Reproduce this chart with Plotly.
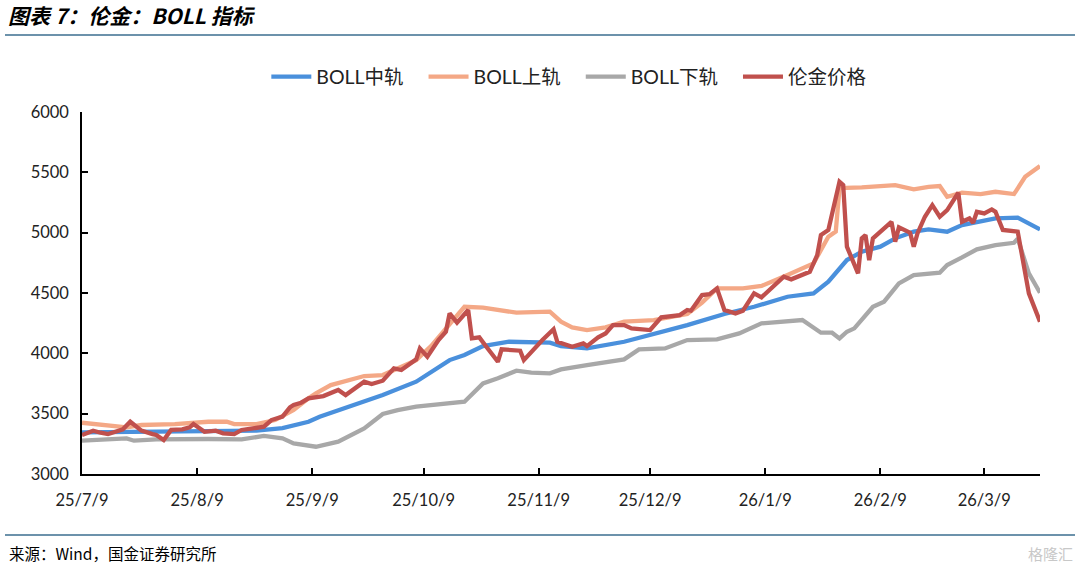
import plotly.graph_objects as go

# ---------------- data ----------------
mid_dates = ["2025-07-09","2025-08-03","2025-08-25","2025-09-01","2025-09-08","2025-09-11","2025-09-19",
             "2025-09-28","2025-10-07","2025-10-16","2025-10-20","2025-10-25","2025-11-01","2025-11-12",
             "2025-11-15","2025-11-22","2025-12-02","2025-12-10","2025-12-19","2025-12-29","2026-01-06",
             "2026-01-15","2026-01-22","2026-01-26","2026-01-31","2026-02-04","2026-02-09","2026-02-13",
             "2026-02-18","2026-02-22","2026-02-27","2026-03-03","2026-03-08","2026-03-12","2026-03-18",
             "2026-03-21","2026-03-24"]
mid_vals = [3345,3348,3359,3381,3433,3475,3558,3654,3765,3944,3986,4060,4096,4088,4060,4041,4096,4160,
            4234,4326,4386,4469,4497,4594,4773,4842,4884,4953,5008,5027,5008,5063,5090,5118,5124,5077,5027]

up_dates = ["2025-07-09","2025-07-16","2025-07-21","2025-07-25","2025-08-03","2025-08-12","2025-08-17",
            "2025-08-19","2025-08-25","2025-08-30","2025-09-04","2025-09-08","2025-09-10","2025-09-14",
            "2025-09-19","2025-09-23","2025-09-28","2025-10-02","2025-10-07","2025-10-11","2025-10-16",
            "2025-10-20","2025-10-25","2025-10-29","2025-11-03","2025-11-12","2025-11-15","2025-11-18",
            "2025-11-22","2025-11-27","2025-12-02","2025-12-10","2025-12-19","2025-12-23","2025-12-27",
            "2026-01-03","2026-01-08","2026-01-15","2026-01-19","2026-01-22","2026-01-26","2026-01-28",
            "2026-01-29","2026-02-04","2026-02-13","2026-02-18","2026-02-22","2026-02-25","2026-02-27",
            "2026-03-03","2026-03-08","2026-03-12","2026-03-17","2026-03-20","2026-03-24"]
up_vals = [3425,3398,3387,3406,3414,3433,3433,3414,3414,3447,3530,3627,3668,3737,3779,3812,3820,3876,
           3944,4060,4234,4386,4378,4359,4337,4345,4262,4215,4193,4215,4262,4276,4326,4420,4538,4538,
           4558,4649,4704,4745,4966,5010,5370,5375,5394,5359,5380,5386,5297,5331,5320,5339,5320,5463,5552]

low_dates = ["2025-07-09","2025-07-21","2025-07-23","2025-07-29","2025-08-12","2025-08-21","2025-08-27",
             "2025-09-01","2025-09-04","2025-09-10","2025-09-16","2025-09-21","2025-09-23","2025-09-28",
             "2025-10-02","2025-10-07","2025-10-16","2025-10-20","2025-10-25","2025-10-29","2025-11-03",
             "2025-11-07","2025-11-12","2025-11-15","2025-11-22","2025-12-02","2025-12-06","2025-12-13",
             "2025-12-19","2025-12-27","2026-01-02","2026-01-08","2026-01-19","2026-01-24","2026-01-27",
             "2026-01-29","2026-01-31","2026-02-02","2026-02-07","2026-02-10","2026-02-14","2026-02-18",
             "2026-02-25","2026-02-27","2026-03-03","2026-03-07","2026-03-12","2026-03-17","2026-03-18",
             "2026-03-21","2026-03-24"]
low_vals = [3276,3295,3276,3287,3290,3287,3315,3295,3254,3226,3268,3350,3378,3497,3530,3558,3586,3599,
            3751,3793,3856,3840,3834,3867,3903,3950,4033,4041,4110,4116,4165,4248,4276,4171,4171,4124,
            4179,4207,4386,4428,4580,4649,4668,4732,4795,4862,4897,4916,4950,4663,4502]

px_dates = ["2025-07-09","2025-07-12","2025-07-14","2025-07-16","2025-07-18","2025-07-20","2025-07-22",
            "2025-07-25","2025-07-28","2025-07-29","2025-07-31","2025-08-02","2025-08-05","2025-08-07",
            "2025-08-08","2025-08-11","2025-08-14","2025-08-16","2025-08-19","2025-08-21","2025-08-24",
            "2025-08-27","2025-08-29","2025-09-01","2025-09-03","2025-09-04","2025-09-06","2025-09-08",
            "2025-09-12","2025-09-16","2025-09-18","2025-09-20","2025-09-23","2025-09-25","2025-09-28",
            "2025-10-01","2025-10-03","2025-10-07","2025-10-08","2025-10-10","2025-10-13","2025-10-15",
            "2025-10-16","2025-10-18","2025-10-21","2025-10-22","2025-10-24","2025-10-26","2025-10-29",
            "2025-10-30","2025-11-04","2025-11-05","2025-11-06","2025-11-10","2025-11-13","2025-11-14",
            "2025-11-18","2025-11-21","2025-11-22","2025-11-25","2025-11-27","2025-11-29","2025-12-02",
            "2025-12-04","2025-12-09","2025-12-10","2025-12-12","2025-12-17","2025-12-19","2025-12-20",
            "2025-12-23","2025-12-25","2025-12-27","2025-12-29","2026-01-01","2026-01-03","2026-01-06",
            "2026-01-08","2026-01-13","2026-01-14","2026-01-16","2026-01-19","2026-01-21","2026-01-23",
            "2026-01-24","2026-01-26","2026-01-28","2026-01-29","2026-01-30","2026-01-31","2026-02-03",
            "2026-02-04","2026-02-05","2026-02-06","2026-02-07","2026-02-10","2026-02-12","2026-02-13",
            "2026-02-14","2026-02-17","2026-02-18","2026-02-19","2026-02-21","2026-02-23","2026-02-25",
            "2026-02-27","2026-03-01","2026-03-02","2026-03-03","2026-03-05","2026-03-06","2026-03-07",
            "2026-03-09","2026-03-11","2026-03-12","2026-03-14","2026-03-18","2026-03-21","2026-03-24"]
px_vals = [3323,3359,3342,3331,3350,3370,3433,3359,3331,3323,3282,3365,3370,3387,3414,3350,3359,3337,
           3331,3365,3378,3392,3447,3475,3552,3572,3591,3627,3646,3696,3654,3702,3765,3746,3773,3876,
           3862,3950,4041,3972,4110,4179,4331,4254,4359,4124,4132,4050,3930,4033,4022,3944,3978,4110,
           4199,4096,4055,4083,4060,4132,4165,4234,4234,4207,4193,4226,4298,4317,4359,4353,4483,4491,
           4538,4359,4331,4353,4497,4464,4607,4635,4613,4649,4676,4814,4980,5022,5270,5422,5394,4884,
           4663,4953,4980,4773,4953,5036,5090,4925,5044,5000,4884,4994,5132,5228,5132,5187,5284,5331,
           5090,5118,5082,5173,5160,5193,5173,5022,5008,4497,4262]

tick_dates = ["2025-07-09","2025-08-09","2025-09-09","2025-10-09","2025-11-09","2025-12-09",
              "2026-01-09","2026-02-09","2026-03-09"]
tick_labels = ["25/7/9","25/8/9","25/9/9","25/10/9","25/11/9","25/12/9","26/1/9","26/2/9","26/3/9"]
y_ticks = [3000, 3500, 4000, 4500, 5000, 5500, 6000]

series = [
    ("BOLL中轨", mid_dates, mid_vals, "#4A90DC"),
    ("BOLL上轨", up_dates, up_vals, "#F4A886"),
    ("BOLL下轨", low_dates, low_vals, "#A8A8A8"),
    ("伦金价格", px_dates, px_vals, "#C0504D"),
]

FONT = "Lato, 'Noto Sans CJK SC', sans-serif"
CJK = "'Noto Sans CJK SC', sans-serif"

fig = go.Figure()
for name, d, v, c in series:
    fig.add_trace(go.Scatter(x=d, y=v, name=name + "   ", mode="lines",
                             line=dict(color=c, width=4.3)))

fig.update_layout(
    width=1080, height=570,
    margin=dict(l=82, r=40, t=112, b=96),
    paper_bgcolor="white", plot_bgcolor="white",
    font=dict(family=FONT, size=16, color="#222222"),
    showlegend=True,
    legend=dict(orientation="h", x=0.516, xanchor="center", y=1.097, yanchor="middle",
                font=dict(size=19.5, family=FONT, color="#222222"),
                itemwidth=40, tracegroupgap=0, bgcolor="rgba(0,0,0,0)"),
    xaxis=dict(type="date", range=["2025-07-09", "2026-03-24"],
               tickmode="array", tickvals=tick_dates, ticktext=tick_labels,
               showgrid=False, zeroline=False, showline=True, linecolor="black", linewidth=1.5,
               ticks="inside", ticklen=6, tickcolor="black", tickwidth=1.5,
               ticklabelstandoff=10,
               tickfont=dict(size=16.5, family=FONT, color="#222222")),
    yaxis=dict(range=[3000, 6000], tickmode="array", tickvals=y_ticks,
               showgrid=False, zeroline=False, showline=True, linecolor="black", linewidth=1.5,
               ticks="inside", ticklen=6, tickcolor="black", tickwidth=1.5,
               ticklabelstandoff=8,
               tickfont=dict(size=16.5, family=FONT, color="#222222")),
)

# title, rules and footer
fig.add_annotation(text="<b><i>图表 7：伦金：BOLL 指标</i></b>", xref="paper", yref="paper",
                   x=(6 - 82) / 958, y=1 + (112 - 15) / 362, xanchor="left", yanchor="middle",
                   showarrow=False, font=dict(size=21, family=CJK, color="black"))
fig.add_shape(type="line", xref="paper", yref="paper",
              x0=(5 - 82) / 958, x1=(1075 - 82) / 958,
              y0=1 + (112 - 35) / 362, y1=1 + (112 - 35) / 362,
              line=dict(color="#3B6E8F", width=1.5))
fig.add_shape(type="line", xref="paper", yref="paper",
              x0=(5 - 82) / 958, x1=(1075 - 82) / 958,
              y0=-(535 - 474) / 362, y1=-(535 - 474) / 362,
              line=dict(color="#3B6E8F", width=1.5))
fig.add_annotation(text="来源：Wind，国金证券研究所", xref="paper", yref="paper",
                   x=(7 - 82) / 958, y=-(553 - 474) / 362, xanchor="left", yanchor="middle",
                   showarrow=False, font=dict(size=15.5, family=CJK, color="black"))
fig.add_annotation(text="格隆汇", xref="paper", yref="paper",
                   x=(1075 - 82) / 958, y=-(553 - 474) / 362, xanchor="right", yanchor="middle",
                   showarrow=False, font=dict(size=15, family=CJK, color="#C8C8C8"))

fig.write_html("out.html", config={"displayModeBar": False},
               post_script="document.body.style.margin='0';document.body.style.overflow='hidden';")
